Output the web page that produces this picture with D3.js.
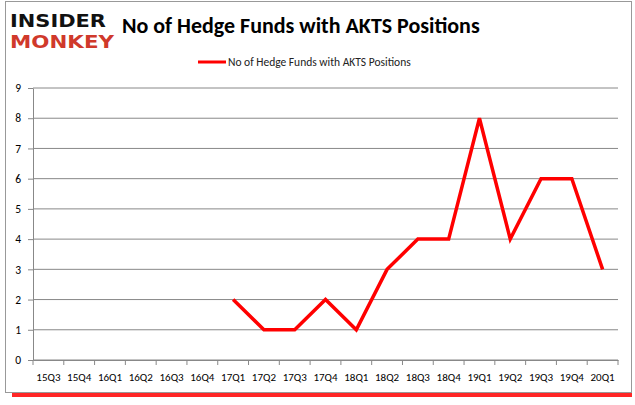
<!DOCTYPE html>
<html><head><meta charset="utf-8">
<script src="https://cdn.jsdelivr.net/npm/d3@7"></script>
<style>body{margin:0;background:#fff}</style></head>
<body><svg id="chart" width="635" height="405"></svg>
<script>
const quarters = ['15Q3','15Q4','16Q1','16Q2','16Q3','16Q4','17Q1','17Q2','17Q3','17Q4','18Q1','18Q2','18Q3','18Q4','19Q1','19Q2','19Q3','19Q4','20Q1'];
const funds = [null,null,null,null,null,null,2,1,1,2,1,3,4,4,8,4,6,6,3];
const yTicks = [0,1,2,3,4,5,6,7,8,9];

const svg = d3.select('#chart');
const font = 'Calibri, Carlito, "Liberation Sans", sans-serif';

// frame with red shadow
svg.append('rect').attr('x', 12).attr('y', 392).attr('width', 620).attr('height', 5).attr('fill', '#f00').attr('opacity', 0.85);
svg.append('rect').attr('x', 5.5).attr('y', 1.5).attr('width', 626).attr('height', 391).attr('fill', '#fff').attr('stroke', '#999');

// logo
svg.append('text').attr('x', 10).attr('y', 27).attr('font-family', 'DejaVu Sans, sans-serif').attr('font-weight', 'bold')
  .attr('font-size', 18).attr('fill', '#111').attr('textLength', 96).attr('lengthAdjust', 'spacingAndGlyphs').text('INSIDER');
svg.append('text').attr('x', 10).attr('y', 48).attr('font-family', 'DejaVu Sans, sans-serif').attr('font-weight', 'bold')
  .attr('font-size', 18).attr('fill', '#d0392b').attr('textLength', 104).attr('lengthAdjust', 'spacingAndGlyphs').text('MONKEY');

svg.append('text').attr('x', 122).attr('y', 33).attr('font-family', font).attr('font-weight', 'bold')
  .attr('font-size', 22).attr('fill', '#000').text('No of Hedge Funds with AKTS Positions');

// legend
svg.append('line').attr('x1', 198).attr('x2', 226).attr('y1', 62).attr('y2', 62).attr('stroke', '#f00').attr('stroke-width', 3);
svg.append('text').attr('x', 228).attr('y', 66).attr('font-family', font).attr('font-size', 11.5).attr('fill', '#222')
  .text('No of Hedge Funds with AKTS Positions');

const x = d3.scaleBand().domain(quarters).range([33, 618]);
const y = d3.scaleLinear().domain([0, 9]).range([360, 88]);

svg.append('g').selectAll('line').data(yTicks).join('line')
  .attr('x1', 33).attr('x2', 618).attr('y1', d => y(d)).attr('y2', d => y(d)).attr('stroke', '#888');

const ya = svg.append('g').attr('transform', 'translate(33,0)').call(d3.axisLeft(y).tickValues(yTicks).tickSize(5).tickSizeOuter(0));
ya.select('.domain').attr('stroke', '#888');
ya.selectAll('line').attr('stroke', '#888');
ya.selectAll('text').attr('font-family', font).attr('font-size', 11.5).attr('fill', '#000').attr('x', -12);

const xa = svg.append('g').attr('transform', 'translate(0,360)').call(d3.axisBottom(x).tickSize(0));
xa.select('.domain').attr('stroke', '#888');
xa.selectAll('text').attr('font-family', font).attr('font-size', 11).attr('fill', '#000').attr('dy', '1.6em');
svg.append('g').selectAll('line').data(d3.range(quarters.length + 1)).join('line')
  .attr('x1', i => 33 + i * x.step()).attr('x2', i => 33 + i * x.step())
  .attr('y1', 360).attr('y2', 365).attr('stroke', '#888');

const line = d3.line().defined(d => d != null)
  .x((d, i) => x(quarters[i]) + x.bandwidth() / 2).y(d => y(d));
svg.append('path').datum(funds).attr('d', line).attr('fill', 'none')
  .attr('stroke', '#f00').attr('stroke-width', 3.5).attr('stroke-linejoin', 'miter');
</script></body></html>
